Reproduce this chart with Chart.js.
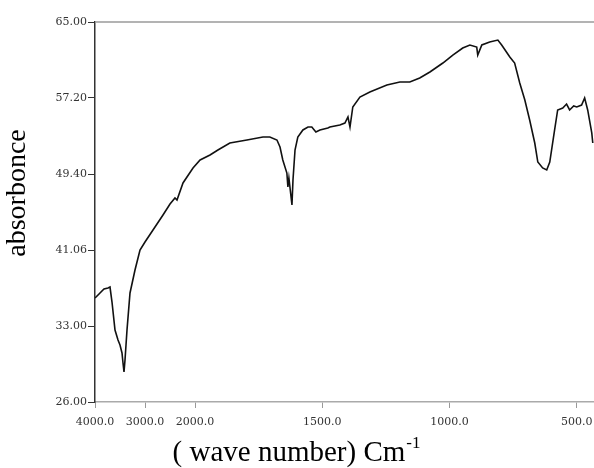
<!DOCTYPE html>
<html>
<head>
<meta charset="utf-8">
<script src="https://cdn.jsdelivr.net/npm/chart.js@4.4.1/dist/chart.umd.min.js"></script>
<style>
  html, body { margin: 0; padding: 0; background: #fff; }
  #wrap { width: 594px; height: 468px; }
</style>
</head>
<body>
<div id="wrap"><canvas id="ir"></canvas></div>
<script>
// wavenumbers (cm-1) and absorbance
const waveNumbers = [
  4000, 3900, 3820, 3740, 3700, 3660, 3600, 3540, 3500, 3460, 3440, 3420, 3400, 3360, 3300,
  3200, 3100, 3000, 2840, 2640, 2500, 2400, 2360, 2240, 2040, 1980, 1941, 1910, 1863, 1796,
  1733, 1706, 1678, 1666, 1655, 1639, 1635, 1631, 1619, 1615, 1607, 1596, 1576, 1556, 1541,
  1525, 1509, 1478, 1470, 1431, 1411, 1399, 1391, 1380, 1352, 1313, 1246, 1195, 1156, 1117,
  1077, 1026, 987, 948, 920, 893, 889, 873, 842, 810, 795, 763, 744, 724, 704,
  685, 665, 653, 634, 618, 606, 587, 575, 555, 540, 528, 512, 500, 481, 469,
  457, 441, 437
];
const absorbance = [
  36.67, 37.19, 37.60, 37.70, 37.80, 36.26, 33.39, 32.36, 31.85, 31.03, 30.00, 29.08, 30.31, 33.39, 37.19,
  39.55, 41.60, 42.42, 43.65, 45.19, 46.32, 46.94, 46.73, 48.48, 50.02, 50.84, 51.35, 51.86, 52.58, 52.89,
  53.20, 53.20, 52.89, 52.17, 50.84, 49.50, 48.07, 48.99, 46.22, 48.78, 51.86, 53.20, 53.92, 54.22, 54.22,
  53.71, 53.92, 54.12, 54.22, 54.43, 54.63, 55.25, 54.22, 56.28, 57.30, 57.82, 58.53, 58.84, 58.84, 59.25,
  59.87, 60.79, 61.61, 62.33, 62.64, 62.43, 61.61, 62.64, 62.95, 63.15, 62.64, 61.41, 60.79, 58.74, 57.00,
  54.94, 52.58, 50.63, 50.02, 49.81, 50.63, 53.92, 55.97, 56.17, 56.58, 55.97, 56.38, 56.28, 56.48, 57.20,
  55.97, 53.61, 52.58
];

const xTickValues = [4000, 3000, 2000, 1500, 1000, 500];
const xTickLabels = ["4000.0", "3000.0", "2000.0", "1500.0", "1000.0", "500.0"];
const yTickValues = [26.0, 33.8, 41.6, 49.4, 57.2, 65.0];
const yTickLabels = ["26.00", "33.00", "41.06", "49.40", "57.20", "65.00"];

// the spectrometer expands the scale below 2000 cm-1
const EXPAND = 5.09;
function axisPos(w) {
  return w >= 2000 ? (4000 - w) / 1000 : 2 + (2000 - w) * EXPAND / 1000;
}

const points = waveNumbers.map((w, i) => ({ x: axisPos(w), y: absorbance[i] }));
const tickFont = { family: "DejaVu Serif", size: 11 };

// frame line on top + axis titles
const decorations = {
  id: "decorations",
  afterDraw(chart) {
    const { ctx, chartArea } = chart;
    ctx.save();
    ctx.strokeStyle = "#9a9a9a";
    ctx.lineWidth = 1.5;
    ctx.beginPath();
    ctx.moveTo(chartArea.left, chartArea.top);
    ctx.lineTo(chartArea.right, chartArea.top);
    ctx.stroke();

    ctx.fillStyle = "#000";
    ctx.font = "28px 'Liberation Serif'";
    ctx.textAlign = "center";
    ctx.textBaseline = "alphabetic";
    ctx.translate(25, 193);
    ctx.rotate(-Math.PI / 2);
    ctx.fillText("absorbonce", 0, 0);
    ctx.restore();

    ctx.save();
    ctx.fillStyle = "#000";
    ctx.textBaseline = "alphabetic";
    ctx.textAlign = "left";
    ctx.font = "29px 'Liberation Serif'";
    const main = "( wave number) Cm";
    const mw = ctx.measureText(main).width;
    ctx.font = "17px 'Liberation Serif'";
    const sw = ctx.measureText("-1").width;
    const x0 = 296 - (mw + sw) / 2;
    ctx.font = "29px 'Liberation Serif'";
    ctx.fillText(main, x0, 461);
    ctx.font = "17px 'Liberation Serif'";
    ctx.fillText("-1", x0 + mw + 1, 448);
    ctx.restore();
  }
};

new Chart(document.getElementById("ir"), {
  type: "line",
  data: {
    datasets: [{
      data: points,
      borderColor: "#111",
      borderWidth: 1.6,
      pointRadius: 0,
      tension: 0,
      fill: false
    }]
  },
  options: {
    responsive: true,
    maintainAspectRatio: false,
    animation: false,
    layout: { padding: { top: 22, right: 0, left: 0, bottom: 0 } },
    plugins: { legend: { display: false }, tooltip: { enabled: false } },
    scales: {
      x: {
        type: "linear",
        min: 0,
        max: 9.98,
        afterBuildTicks(scale) {
          scale.ticks = xTickValues.map(w => ({ value: axisPos(w) }));
        },
        afterFit(scale) {
          scale.height = 66;
          // let the last label run off the edge like the scan does
          scale.paddingRight = 0;
          scale.paddingLeft = 0;
        },
        ticks: {
          font: tickFont,
          color: "#333",
          padding: 8,
          maxRotation: 0,
          autoSkip: false,
          callback: (v, i) => xTickLabels[i]
        },
        grid: { drawOnChartArea: false, drawTicks: true, tickLength: 6, color: "#999" },
        border: { color: "#aaa", width: 1.5 }
      },
      y: {
        min: 26,
        max: 65,
        afterBuildTicks(scale) {
          scale.ticks = yTickValues.map(v => ({ value: v }));
        },
        afterFit(scale) { scale.width = 95; },
        ticks: {
          font: tickFont,
          color: "#333",
          padding: 1,
          autoSkip: false,
          callback: (v, i) => yTickLabels[i]
        },
        grid: { drawOnChartArea: false, drawTicks: true, tickLength: 7, color: "#333" },
        border: { color: "#333", width: 1.5 }
      }
    }
  },
  plugins: [decorations]
});
</script>
</body>
</html>
